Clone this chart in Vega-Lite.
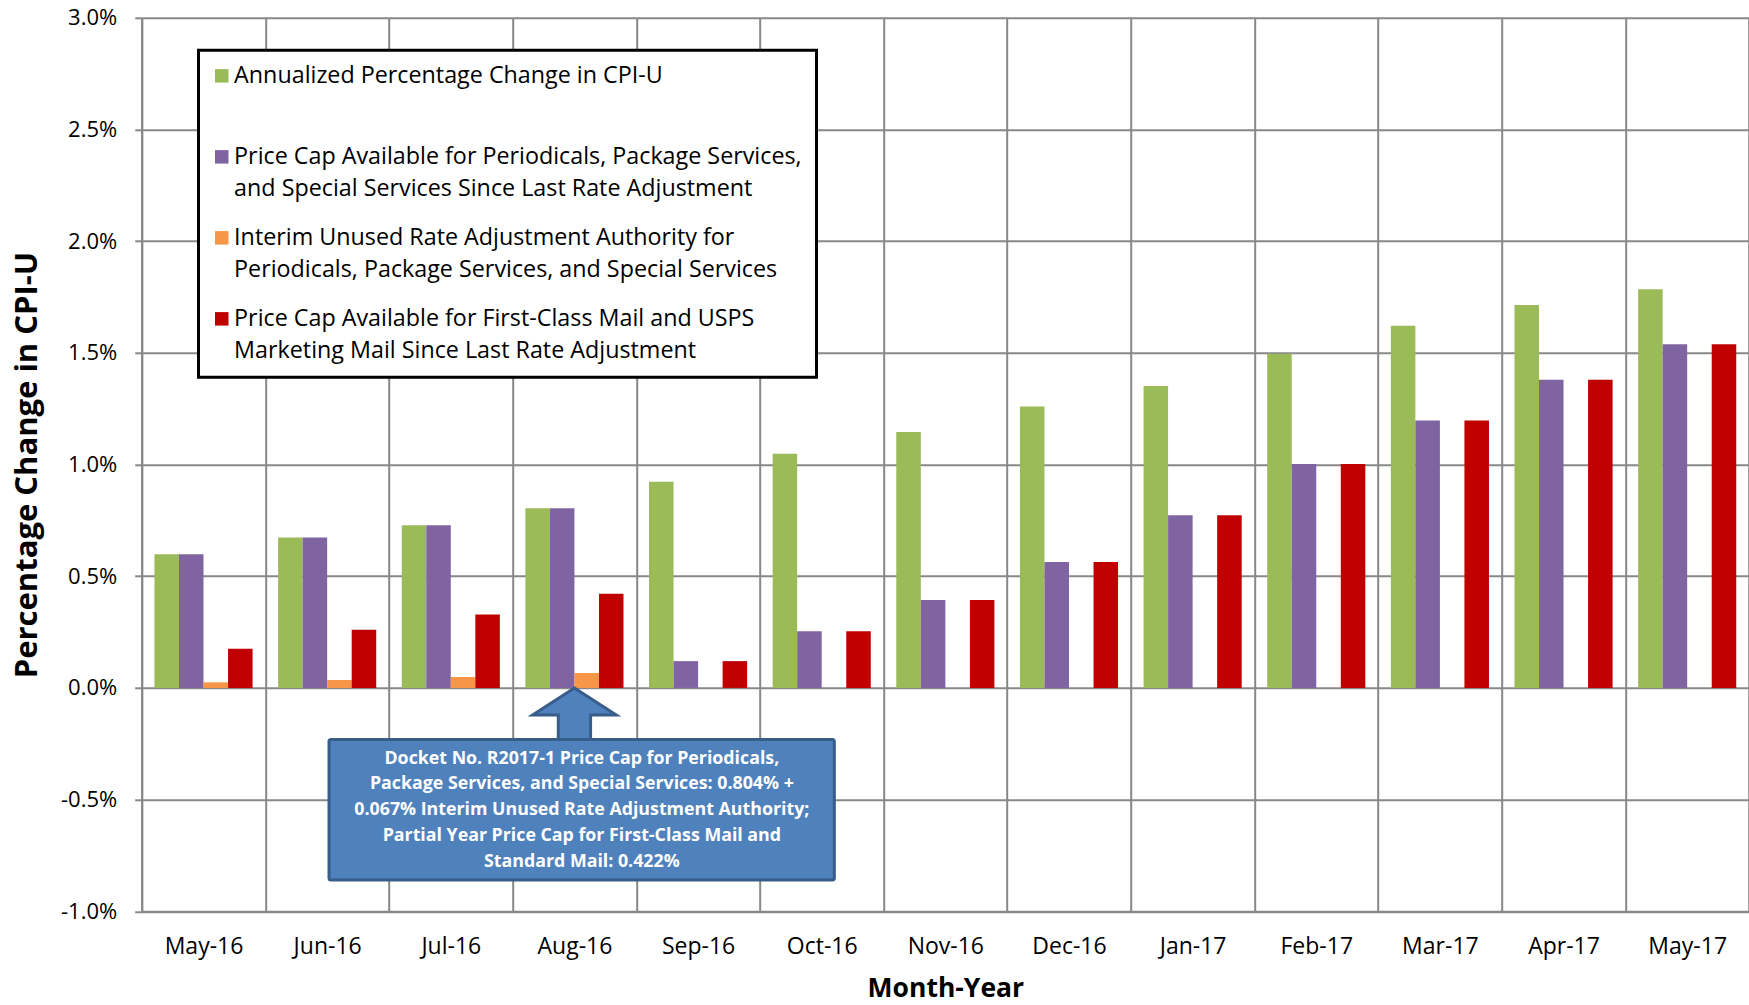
{
  "$schema": "https://vega.github.io/schema/vega-lite/v6.json",
  "width": 1607.3,
  "height": 893.5,
  "autosize": {"type": "none"},
  "padding": {"left": 141.7, "top": 17.8, "right": 0, "bottom": 93.7},
  "background": "white",
  "config": {
    "view": {"stroke": null},
    "font": "Open Sans"
  },
  "resolve": {"scale": {"x": "independent"}},
  "layer": [
    {
      "data": {
        "values": [
          {"month": "May-16", "series": "CPI", "value": 0.598},
          {"month": "May-16", "series": "PPS", "value": 0.598},
          {"month": "May-16", "series": "Interim", "value": 0.025},
          {"month": "May-16", "series": "FCM", "value": 0.175},
          {"month": "Jun-16", "series": "CPI", "value": 0.673},
          {"month": "Jun-16", "series": "PPS", "value": 0.673},
          {"month": "Jun-16", "series": "Interim", "value": 0.035},
          {"month": "Jun-16", "series": "FCM", "value": 0.26},
          {"month": "Jul-16", "series": "CPI", "value": 0.728},
          {"month": "Jul-16", "series": "PPS", "value": 0.728},
          {"month": "Jul-16", "series": "Interim", "value": 0.049},
          {"month": "Jul-16", "series": "FCM", "value": 0.329},
          {"month": "Aug-16", "series": "CPI", "value": 0.804},
          {"month": "Aug-16", "series": "PPS", "value": 0.804},
          {"month": "Aug-16", "series": "Interim", "value": 0.067},
          {"month": "Aug-16", "series": "FCM", "value": 0.422},
          {"month": "Sep-16", "series": "CPI", "value": 0.923},
          {"month": "Sep-16", "series": "PPS", "value": 0.12},
          {"month": "Sep-16", "series": "FCM", "value": 0.12},
          {"month": "Oct-16", "series": "CPI", "value": 1.048},
          {"month": "Oct-16", "series": "PPS", "value": 0.254},
          {"month": "Oct-16", "series": "FCM", "value": 0.254},
          {"month": "Nov-16", "series": "CPI", "value": 1.146},
          {"month": "Nov-16", "series": "PPS", "value": 0.394},
          {"month": "Nov-16", "series": "FCM", "value": 0.394},
          {"month": "Dec-16", "series": "CPI", "value": 1.26},
          {"month": "Dec-16", "series": "PPS", "value": 0.564},
          {"month": "Dec-16", "series": "FCM", "value": 0.564},
          {"month": "Jan-17", "series": "CPI", "value": 1.352},
          {"month": "Jan-17", "series": "PPS", "value": 0.773},
          {"month": "Jan-17", "series": "FCM", "value": 0.773},
          {"month": "Feb-17", "series": "CPI", "value": 1.496},
          {"month": "Feb-17", "series": "PPS", "value": 1.002},
          {"month": "Feb-17", "series": "FCM", "value": 1.002},
          {"month": "Mar-17", "series": "CPI", "value": 1.621},
          {"month": "Mar-17", "series": "PPS", "value": 1.197},
          {"month": "Mar-17", "series": "FCM", "value": 1.197},
          {"month": "Apr-17", "series": "CPI", "value": 1.714},
          {"month": "Apr-17", "series": "PPS", "value": 1.38},
          {"month": "Apr-17", "series": "FCM", "value": 1.38},
          {"month": "May-17", "series": "CPI", "value": 1.785},
          {"month": "May-17", "series": "PPS", "value": 1.539},
          {"month": "May-17", "series": "FCM", "value": 1.539}
        ]
      },
      "mark": {"type": "bar"},
      "encoding": {
        "x": {
          "field": "month",
          "type": "nominal",
          "sort": null,
          "scale": {"paddingInner": 0, "paddingOuter": 0},
          "axis": {
            "title": "Month-Year",
            "titleFont": "Open Sans",
            "titleFontSize": 26.5,
            "titleFontWeight": "bold",
            "titleColor": "black",
            "titlePadding": 17,
            "labelFont": "Open Sans",
            "labelFontSize": 23,
            "labelColor": "black",
            "labelAngle": 0,
            "labelPadding": 24,
            "ticks": false,
            "tickBand": "extent",
            "domainColor": "#888888",
            "domainWidth": 2,
            "grid": true,
            "gridColor": "#888888",
            "gridWidth": 2
          }
        },
        "xOffset": {
          "field": "series",
          "type": "nominal",
          "scale": {"domain": ["CPI", "PPS", "Interim", "FCM"], "paddingInner": 0, "paddingOuter": 0.52}
        },
        "y": {
          "field": "value",
          "type": "quantitative",
          "scale": {"domain": [-1, 3], "nice": false, "zero": false},
          "axis": {
            "title": "Percentage Change in CPI-U",
            "titleFont": "Open Sans",
            "titleFontSize": 31,
            "titleFontWeight": "bold",
            "titleColor": "black",
            "titlePadding": 17,
            "values": [-1, -0.5, 0, 0.5, 1, 1.5, 2, 2.5, 3],
            "labelExpr": "replace(format(datum.value, '.1f'), '\u2212', '-') + '%'",
            "labelFont": "Open Sans",
            "labelFontSize": 22,
            "labelColor": "black",
            "labelPadding": 18,
            "tickSize": 7,
            "tickColor": "#888888",
            "tickWidth": 2,
            "domainColor": "#888888",
            "domainWidth": 2,
            "grid": true,
            "gridColor": "#888888",
            "gridWidth": 2
          }
        },
        "color": {
          "field": "series",
          "type": "nominal",
          "scale": {
            "domain": ["CPI", "PPS", "Interim", "FCM"],
            "range": ["#9BBB59", "#8064A2", "#F79646", "#C00000"]
          },
          "legend": {
            "title": null,
            "orient": "none",
            "direction": "vertical",
            "legendX": 56.8,
            "legendY": 32.4,
            "padding": 14,
            "fillColor": "white",
            "strokeColor": "black",
            "symbolType": "square",
            "symbolSize": 182,
            "symbolStrokeWidth": 0,
            "symbolOffset": -2.4,
            "labelOffset": 0.7,
            "labelFont": "Open Sans",
            "labelFontSize": 23.3,
            "labelColor": "black",
            "labelLimit": 2000,
            "labelBaseline": "middle",
            "rowPadding": 24,
            "labelExpr": "datum.label == 'CPI' ? ['Annualized Percentage Change in CPI-U', ''] : datum.label == 'PPS' ? ['Price Cap Available for Periodicals, Package Services,', 'and Special Services Since Last Rate Adjustment'] : datum.label == 'Interim' ? ['Interim Unused Rate Adjustment Authority for', 'Periodicals, Package Services, and Special Services'] : ['Price Cap Available for First-Class Mail and USPS', 'Marketing Mail Since Last Rate Adjustment']",
            "encode": {
              "labels": {"update": {"lineHeight": {"value": 32.3}}},
              "legend": {"update": {"strokeWidth": {"value": 3}}}
            }
          }
        }
      }
    },
    {
      "data": {"values": [{"note": "arrow"}]},
      "mark": {
        "type": "point",
        "shape": "M 0 0 L 1 0.648 L 0.386 0.648 L 0.386 1.364 L -0.386 1.364 L -0.386 0.648 L -1 0.648 Z",
        "filled": true,
        "fill": "#4F81BD",
        "stroke": "#385D8A",
        "strokeWidth": 3,
        "opacity": 1,
        "size": 7006
      },
      "encoding": {
        "x": {"datum": 3.5, "type": "quantitative", "scale": {"domain": [0, 13], "nice": false, "zero": false}, "axis": null},
        "y": {"datum": 0, "type": "quantitative"}
      }
    },
    {
      "data": {"values": [{"note": "box"}]},
      "mark": {"type": "rect", "fill": "#4F81BD", "stroke": "#385D8A", "strokeWidth": 3, "cornerRadius": 2},
      "encoding": {
        "x": {"datum": 1.515, "type": "quantitative", "scale": {"domain": [0, 13], "nice": false, "zero": false}, "axis": null},
        "x2": {"datum": 5.602},
        "y": {"datum": -0.231, "type": "quantitative"},
        "y2": {"datum": -0.86}
      }
    },
    {
      "data": {"values": [{"note": "text"}]},
      "mark": {
        "type": "text",
        "text": [
          "Docket No. R2017-1 Price Cap for Periodicals,",
          "Package Services, and Special Services: 0.804% +",
          "0.067% Interim Unused Rate Adjustment Authority;",
          "Partial Year Price Cap for First-Class Mail and",
          "Standard Mail: 0.422%"
        ],
        "font": "Open Sans",
        "fontSize": 17.8,
        "fontWeight": "bold",
        "color": "white",
        "align": "center",
        "baseline": "middle",
        "lineHeight": 25.9
      },
      "encoding": {
        "x": {"datum": 3.56, "type": "quantitative", "scale": {"domain": [0, 13], "nice": false, "zero": false}, "axis": null},
        "y": {"datum": -0.316, "type": "quantitative"}
      }
    }
  ]
}
